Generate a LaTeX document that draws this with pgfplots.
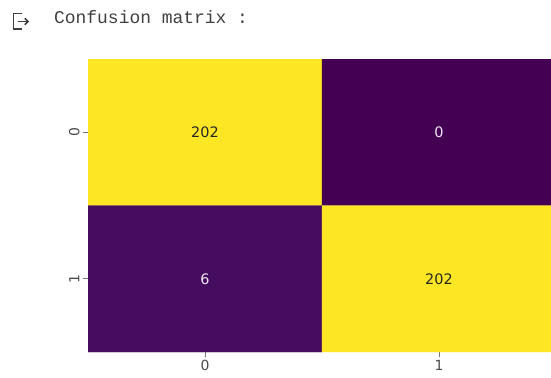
\documentclass[border=0pt]{standalone}
\usepackage{pgfplots}
\pgfplotsset{compat=1.18}
\usepackage{fontspec}
\setmainfont{DejaVu Sans}
\newfontfamily\monofont{Liberation Mono}
\definecolor{darktxt}{HTML}{262626}
\definecolor{lighttxt}{HTML}{EEE6F2}
\definecolor{ticklbl}{HTML}{4A4A4A}
\begin{document}
\begin{tikzpicture}
\useasboundingbox (0bp,0bp) rectangle (551bp,-378bp);
\clip (0bp,0bp) rectangle (551bp,-378bp);
\begin{scope}[x=1bp,y=-1bp]
\draw[line width=1.9bp, color=black!75] (22,13.5) -- (13.5,13.5) -- (13.5,29) -- (22,29);
\draw[line width=1.7bp, color=black!75] (17.5,21.5) -- (28,21.5);
\draw[line width=1.7bp, color=black!75] (24.8,18.3) -- (28,21.5) -- (24.8,24.7);
\node[anchor=base west, font=\monofont\fontsize{18}{20}\selectfont, text=black!75, inner sep=0] at (54,23) {Confusion matrix :};
\end{scope}
\begin{axis}[
 at={(88bp,-352bp)}, anchor=south west,
 scale only axis, width=468bp, height=293bp,
 xmin=-0.5, xmax=1.5, ymin=-0.5, ymax=1.5,
 axis line style={draw=none},
 xtick={0,1}, ytick={0,1}, yticklabels={1,0},
 xtick pos=lower, ytick pos=left,
 tick align=outside, major tick length=5bp,
 tick style={black!55, line width=0.8bp},
 /pgf/number format/assume math mode=true,
 tick label style={font=\fontsize{14}{16}\selectfont, text=ticklbl},
 yticklabel style={rotate=90, anchor=south},
 colormap/viridis, point meta min=0, point meta max=202,
 enlargelimits=false,
]
\addplot[matrix plot*, mesh/cols=2, point meta=explicit] table[meta=c] {
x y c
0 1 202
1 1 0
0 0 6
1 0 202
};
\addplot[draw=none, mark=none, nodes near coords, point meta=explicit symbolic,
  nodes near coords align={center},
  every node near coord/.append style={font=\fontsize{14.5}{16}\selectfont, text=darktxt}] table[meta=l] {
x y l
0 1 202
1 0 202
};
\addplot[draw=none, mark=none, nodes near coords, point meta=explicit symbolic,
  nodes near coords align={center},
  every node near coord/.append style={font=\fontsize{14.5}{16}\selectfont, text=lighttxt}] table[meta=l] {
x y l
1 1 0
0 0 6
};
\end{axis}
\end{tikzpicture}
\end{document}
